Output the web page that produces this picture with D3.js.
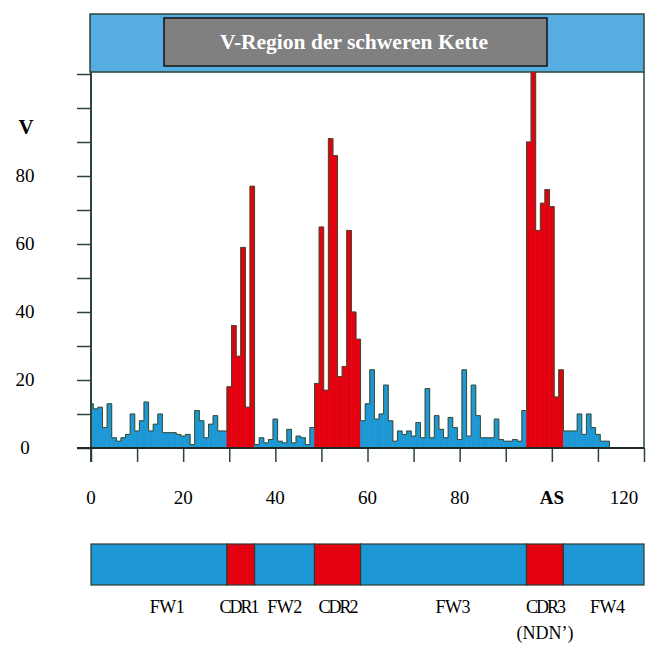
<!DOCTYPE html>
<html lang="de">
<head>
<meta charset="utf-8">
<title>V-Region der schweren Kette</title>
<script src="https://cdn.jsdelivr.net/npm/d3@7"></script>
<style>
body { margin: 0; background: #fff; }
text { font-family: "Liberation Serif", "Times New Roman", serif; }
</style>
</head>
<body>
<script>
// variability per residue position (0..112)
var variability = [
  13, 11.5, 12, 6, 13, 3, 2, 3, 4, 10, 5, 8, 13.5, 5, 7, 10, 4.5, 4.5, 4.5, 4,
  3.5, 4, 1, 11, 8, 3, 7, 9.5, 5, 5,
  18, 36, 27, 59, 12, 77,
  1, 3, 1.5, 2.5, 8.5, 2, 1.5, 5.5, 1.5, 3.5, 3, 1, 6,
  19, 65, 17, 91, 86, 21, 24, 64, 40, 32,
  8, 13, 23, 8.5, 10, 18.5, 8, 2, 5, 4, 5, 3.5, 7.5, 3, 17.5, 3, 9.5, 5.5, 3, 9,
  6, 2.5, 23, 3.5, 18.5, 9.5, 3, 3, 3, 8.5, 2.5, 2, 2, 2.5, 2, 11,
  90, 112, 64, 72, 76, 71, 15, 23,
  5, 5, 5, 10, 4, 10, 6, 4, 2, 2
];

// segments of the chain
var segNames = ["FW1", "CDR1", "FW2", "CDR2", "FW3", "CDR3", "FW4"];
var segStart = [0, 29.5, 35.5, 48.5, 58.5, 94.5, 102.5];
var segEnd   = [29.5, 35.5, 48.5, 58.5, 94.5, 102.5, 120];
var segLabelAt = [16.5, 32, 42, 53.5, 78.5, 98.5, 112];

var xTickLabels = ["0", "20", "40", "60", "80", "AS", "120"];
var xTickValues = [0, 20, 40, 60, 80, 100, 120];
var yTickLabels = [0, 20, 40, 60, 80];

var title = "V-Region der schweren Kette";

var w = 661, h = 650;
var blue = "#1e98d5";
var red = "#e3000f";
var lineCol = "#2b4636";

var x = d3.scaleLinear().domain([0, 120]).range([91, 644]);
var y = d3.scaleLinear().domain([0, 110]).range([448, 74]);

function isCdr(pos) {
    for (var k = 0; k < segNames.length; k++) {
        if (pos >= segStart[k] && pos < segEnd[k]) return segNames[k].indexOf("CDR") === 0;
    }
    return false;
}

var svg = d3.select("body").append("svg")
    .attr("width", w)
    .attr("height", h);

svg.append("defs").append("clipPath").attr("id", "plot")
    .append("rect")
    .attr("x", x(0)).attr("y", 72)
    .attr("width", x(120) - x(0)).attr("height", y(0) - 72);

// header band
svg.append("rect")
    .attr("x", x(0) - 1).attr("y", 14)
    .attr("width", x(120) - x(0) + 1).attr("height", 58)
    .attr("fill", "#56ade2")
    .attr("stroke", lineCol).attr("stroke-width", 1.5);

svg.append("rect")
    .attr("x", 164).attr("y", 18)
    .attr("width", 383).attr("height", 48)
    .attr("fill", "#808080")
    .attr("stroke", "#111").attr("stroke-width", 1.5);

svg.append("text")
    .attr("x", 354).attr("y", 49)
    .attr("text-anchor", "middle")
    .attr("fill", "#fff")
    .attr("font-weight", "bold")
    .attr("font-size", 21.5)
    .text(title);

// right frame
svg.append("line")
    .attr("x1", x(120)).attr("x2", x(120))
    .attr("y1", 72).attr("y2", y(0))
    .attr("stroke", lineCol).attr("stroke-width", 1.5);

// bars
var bars = svg.append("g").attr("clip-path", "url(#plot)");
bars.selectAll("rect")
    .data(variability)
    .enter()
    .append("rect")
    .attr("x", function(d, i) { return x(Math.max(i - 0.5, 0)); })
    .attr("width", function(d, i) { return x(i + 0.5) - x(Math.max(i - 0.5, 0)); })
    .attr("y", function(d) { return y(d); })
    .attr("height", function(d) { return y(0) - y(d); })
    .attr("fill", function(d, i) { return isCdr(i) ? red : blue; })
    .attr("stroke", function(d, i) { return isCdr(i) ? red : blue; })
    .attr("stroke-width", 0.6);

// step outline
var pts = [[0, 0]];
variability.forEach(function(d, i) {
    pts.push([Math.max(i - 0.5, 0), d]);
    pts.push([i + 0.5, d]);
});
pts.push([variability.length - 0.5, 0]);

bars.append("path")
    .datum(pts)
    .attr("fill", "none")
    .attr("stroke", "#3d4a30")
    .attr("stroke-width", 1)
    .attr("d", d3.line()
        .x(function(p) { return x(p[0]); })
        .y(function(p) { return y(p[1]); }));

// axes
var yAxis = svg.append("g")
    .attr("transform", "translate(" + x(0) + ",0)")
    .call(d3.axisLeft(y).tickValues(d3.range(0, 111, 10)).tickSize(14).tickFormat(""));
yAxis.select(".domain").remove();

var xAxis = svg.append("g")
    .attr("transform", "translate(0," + y(0) + ")")
    .call(d3.axisBottom(x).tickValues(d3.range(0, 121, 10)).tickSize(14).tickFormat(""));
xAxis.select(".domain").remove();

svg.selectAll(".tick line").attr("stroke", lineCol).attr("stroke-width", 1.5);

svg.append("line")
    .attr("x1", x(0)).attr("x2", x(0))
    .attr("y1", 72).attr("y2", y(0) + 14)
    .attr("stroke", lineCol).attr("stroke-width", 2);
svg.append("line")
    .attr("x1", x(0) - 14).attr("x2", x(120))
    .attr("y1", y(0)).attr("y2", y(0))
    .attr("stroke", "#1d2a22").attr("stroke-width", 2);

// tick labels
svg.selectAll(".ylab")
    .data(yTickLabels)
    .enter()
    .append("text")
    .attr("class", "ylab")
    .attr("x", 25)
    .attr("y", function(d) { return y(d) + 6; })
    .attr("text-anchor", "middle")
    .attr("font-size", 19)
    .text(function(d) { return d; });

svg.append("text")
    .attr("x", 26).attr("y", y(94) + 6)
    .attr("text-anchor", "middle")
    .attr("font-size", 21)
    .attr("font-weight", "bold")
    .text("V");

svg.selectAll(".xlab")
    .data(xTickLabels)
    .enter()
    .append("text")
    .attr("class", "xlab")
    .attr("x", function(d, i) { return i === xTickLabels.length - 1 ? x(xTickValues[i]) - 20 : x(xTickValues[i]); })
    .attr("y", 504)
    .attr("text-anchor", "middle")
    .attr("font-size", 19)
    .attr("font-weight", function(d) { return d === "AS" ? "bold" : "normal"; })
    .text(function(d) { return d; });

// chain diagram
var chain = svg.append("g");
chain.selectAll("rect")
    .data(segNames)
    .enter()
    .append("rect")
    .attr("x", function(d, i) { return x(segStart[i]); })
    .attr("width", function(d, i) { return x(segEnd[i]) - x(segStart[i]); })
    .attr("y", 544)
    .attr("height", 41)
    .attr("fill", function(d) { return d.indexOf("CDR") === 0 ? red : blue; })
    .attr("stroke", "#2a3a30")
    .attr("stroke-width", 1.2);

chain.selectAll("text")
    .data(segNames)
    .enter()
    .append("text")
    .attr("x", function(d, i) { return x(segLabelAt[i]); })
    .attr("y", 613)
    .attr("text-anchor", "middle")
    .attr("font-size", 18)
    .attr("letter-spacing", function(d) { return d.indexOf("CDR") === 0 ? "-2px" : "-0.5px"; })
    .text(function(d) { return d; });

svg.append("text")
    .attr("x", x(segLabelAt[5]))
    .attr("y", 639)
    .attr("text-anchor", "middle")
    .attr("font-size", 18)
    .text("(NDN\u2019)");
</script>
</body>
</html>
